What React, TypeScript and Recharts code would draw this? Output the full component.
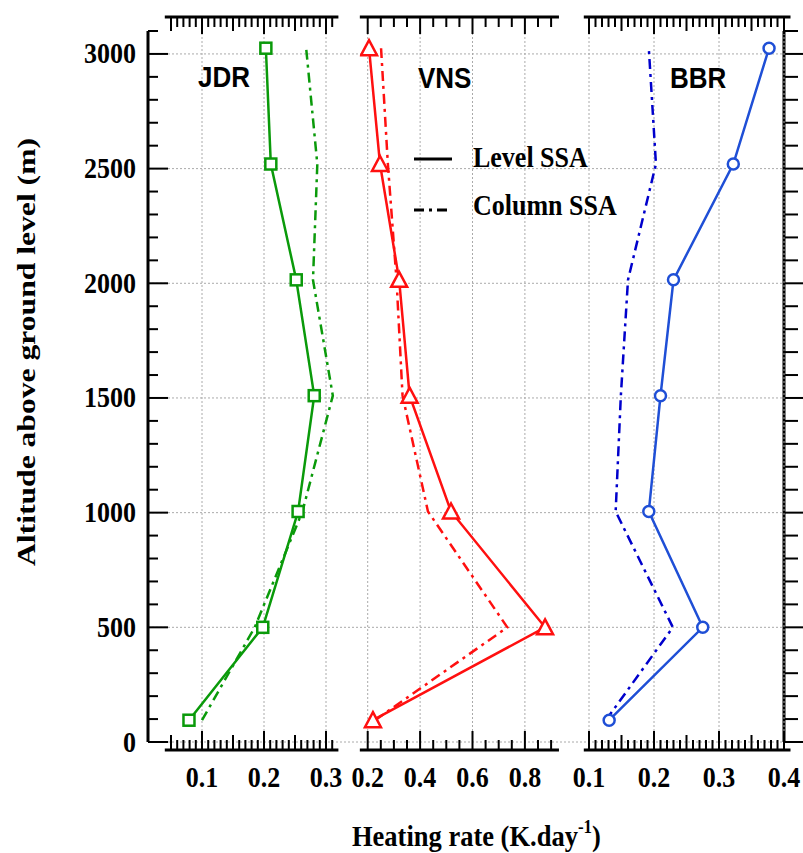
import React from 'react'
import { LineChart, Line, XAxis, YAxis, CartesianGrid } from 'recharts'

// altitudes of the profile points (m above ground)
const altitudes = [95, 500, 1005, 1510, 2015, 2520, 3025]

// heating rate (K/day) at each altitude
const jdrLevel = [0.079, 0.198, 0.255, 0.281, 0.252, 0.211, 0.203]
const jdrColumn = [0.1, 0.185, 0.262, 0.311, 0.279, 0.286, 0.268]
const vnsLevel = [0.22, 0.877, 0.518, 0.36, 0.32, 0.247, 0.205]
const vnsColumn = [0.228, 0.733, 0.43, 0.333, 0.31, 0.277, 0.251]
const bbrLevel = [0.131, 0.275, 0.192, 0.21, 0.23, 0.322, 0.377]
const bbrColumn = [0.126, 0.229, 0.141, 0.149, 0.16, 0.203, 0.192]

const yMajorTicks = [0, 500, 1000, 1500, 2000, 2500, 3000]
const jdrTicks = [0.1, 0.2, 0.3]
const vnsTicks = [0.2, 0.4, 0.6, 0.8]
const bbrTicks = [0.1, 0.2, 0.3, 0.4]

const range = (a: number, b: number, s: number) => {
  const out: number[] = []
  for (let v = a; v <= b + 1e-9; v += s) out.push(Math.round(v * 1000) / 1000)
  return out
}
const yMinorTicks = range(0, 3100, 100)

const W = 803
const H = 853
const SERIF = 'Liberation Serif, Times New Roman, serif'
const SANS = 'Liberation Sans, Arial, sans-serif'
const DASHDOT = '10 5 3 5'
const STRETCH = 'scale(1 1.15)' // the source figure is a bit taller than wide

// frame (shared altitude axis) in page pixels
const FRAME = { left: 148, right: 784, top: 31, bottom: 742 }
const Y_DOMAIN = [0, 3100]
const pxPerM = (FRAME.bottom - FRAME.top) / (Y_DOMAIN[1] - Y_DOMAIN[0])
// the x axes sit a little outside the frame
const AX_TOP = 17
const AX_BOTTOM = 750
const panelYDomain = [
  Y_DOMAIN[0] - (AX_BOTTOM - FRAME.bottom) / pxPerM,
  Y_DOMAIN[1] + (FRAME.top - AX_TOP) / pxPerM,
]

const makeRows = (level: number[], column: number[]) =>
  altitudes.map((alt, i) => ({ alt, level: level[i], column: column[i] }))

const axisStroke = { stroke: '#000', strokeWidth: 3 }

type Side = 'left' | 'right' | 'top' | 'bottom'

// draws tick marks (major / medium / minor lengths) and the labels of the major ticks
const makeTick = (side: Side, major: number[], medium: number[], lens: number[], label?: (v: number) => string) =>
  (props: any) => {
    const { x, y, payload, index } = props
    const v = payload.value
    const has = (arr: number[]) => arr.some((m) => Math.abs(m - v) < 1e-6)
    const isMajor = has(major)
    const len = isMajor ? lens[0] : has(medium) ? lens[1] : lens[2]
    let line
    if (side === 'left') line = <line x1={x} x2={x + len} y1={y} y2={y} />
    else if (side === 'right') line = <line x1={x} x2={x + len} y1={y} y2={y} />
    else if (side === 'top') line = <line x1={x} x2={x} y1={y} y2={y + len} />
    else line = <line x1={x} x2={x} y1={y} y2={y - len} />
    let text = null
    if (label && isMajor) {
      const common = { fill: '#000', fontSize: 26, fontWeight: 700, fontFamily: SERIF }
      text = side === 'left'
        ? <g transform={`translate(${x - 12} ${y + 9.5}) ${STRETCH}`}><text textAnchor="end" {...common}>{label(v)}</text></g>
        : <g transform={`translate(${x} ${y + 37}) ${STRETCH}`}><text textAnchor="middle" {...common}>{label(v)}</text></g>
    }
    return (
      <g key={`t${index}`}>
        <g stroke="#000" strokeWidth={2}>{line}</g>
        {text}
      </g>
    )
  }

type DotKind = 'square' | 'triangle' | 'circle'

const makeDot = (kind: DotKind, color: string) => (props: any) => {
  const { cx, cy, index } = props
  if (cx == null || cy == null) return <g key={`d${index}`} />
  if (kind === 'square')
    return <rect key={`d${index}`} x={cx - 5.5} y={cy - 5.5} width={11} height={11} fill="#fff" stroke={color} strokeWidth={2.5} />
  if (kind === 'triangle')
    return (
      <path key={`d${index}`} d={`M${cx},${cy - 8} L${cx + 8},${cy + 7} L${cx - 8},${cy + 7} Z`}
        fill="#fff" stroke={color} strokeWidth={2.5} />
    )
  return <circle key={`d${index}`} cx={cx} cy={cy} r={5.5} fill="#fff" stroke={color} strokeWidth={2.5} />
}

interface PanelProps {
  rows: { alt: number; level: number; column: number }[]
  domain: [number, number]
  left: number
  right: number
  major: number[]
  medium: number[]
  minor: number[]
  color: string
  columnColor: string
  dot: DotKind
}

const BOTTOM_H = 40

function Panel({ rows, domain, left, right, major, medium, minor, color, columnColor, dot }: PanelProps) {
  return (
    <div style={{ position: 'absolute', left: 0, top: 0 }}>
      <LineChart layout="vertical" width={W} height={H} data={rows}
        margin={{ top: 0, bottom: H - AX_BOTTOM - BOTTOM_H, left, right: W - right }}>
        <CartesianGrid horizontal={false} xAxisId="b" verticalValues={major} stroke="#aaa" strokeDasharray="2 2" />
        <YAxis type="number" dataKey="alt" domain={panelYDomain} allowDataOverflow reversed hide />
        <XAxis xAxisId="b" type="number" domain={domain} allowDataOverflow interval={0}
          orientation="bottom" height={BOTTOM_H} ticks={minor} tickSize={0} tickMargin={0}
          tickLine={false} axisLine={axisStroke}
          tick={makeTick('bottom', major, medium, [19, 15, 10], (v) => v.toFixed(1))} />
        <XAxis xAxisId="t" type="number" domain={domain} allowDataOverflow interval={0}
          orientation="top" height={AX_TOP} ticks={minor} tickSize={0} tickMargin={0}
          tickLine={false} axisLine={axisStroke}
          tick={makeTick('top', major, medium, [17, 14, 10])} />
        <Line xAxisId="b" dataKey="column" stroke={columnColor} strokeWidth={2.5}
          strokeDasharray={DASHDOT} dot={false} isAnimationActive={false} />
        <Line xAxisId="b" dataKey="level" stroke={color} strokeWidth={2.5}
          dot={makeDot(dot, color)} isAnimationActive={false} />
      </LineChart>
    </div>
  )
}

function Frame() {
  const leftW = 70
  const rightW = W - FRAME.right
  return (
    <div style={{ position: 'absolute', left: 0, top: 0 }}>
      <LineChart width={W} height={H} data={makeRows(jdrLevel, jdrColumn)}
        margin={{ top: FRAME.top, bottom: H - FRAME.bottom, left: FRAME.left - leftW, right: 0 }}>
        <CartesianGrid vertical={false} yAxisId="l" horizontalValues={yMajorTicks} stroke="#aaa" strokeDasharray="2 2" />
        <XAxis type="number" dataKey="level" hide />
        <YAxis yAxisId="l" type="number" domain={Y_DOMAIN} allowDataOverflow ticks={yMinorTicks}
          interval={0} width={leftW} tickSize={0} tickMargin={0} tickLine={false} axisLine={axisStroke}
          tick={makeTick('left', yMajorTicks, [], [20, 20, 10], (v) => String(v))} />
        <YAxis yAxisId="r" orientation="right" type="number" domain={Y_DOMAIN} allowDataOverflow
          ticks={yMinorTicks} interval={0} width={rightW} tickSize={0} tickMargin={0} tickLine={false}
          axisLine={axisStroke} tick={makeTick('right', yMajorTicks, [], [20, 20, 14])} />
      </LineChart>
    </div>
  )
}

export default function App() {
  // pixel anchors of each panel's x scale: value `at` sits at `px`, `k` px per unit
  const p1 = { at: 0.1, px: 202, k: 620, domain: [0.04, 0.32] as [number, number] }
  const p2 = { at: 0.2, px: 367.7, k: 262, domain: [0.17, 0.93] as [number, number] }
  const p3 = { at: 0.4, px: 784, k: 650, domain: [0.092, 0.41] as [number, number] }
  const edge = (p: typeof p1, v: number) => p.px + (v - p.at) * p.k
  const stretched = (x: number, y: number) => `translate(${x} ${y}) ${STRETCH}`

  return (
    <div style={{ position: 'absolute', left: 0, top: 0, width: W, height: H, background: '#fff', overflow: 'hidden' }}>
      <Frame />
      <Panel rows={makeRows(jdrLevel, jdrColumn)} domain={p1.domain}
        left={edge(p1, p1.domain[0])} right={edge(p1, p1.domain[1])}
        major={jdrTicks} medium={[0.05, 0.15, 0.25]} minor={range(0.05, 0.31, 0.01)}
        color="#0a9a0a" columnColor="#0a9a0a" dot="square" />
      <Panel rows={makeRows(vnsLevel, vnsColumn)} domain={p2.domain}
        left={edge(p2, p2.domain[0])} right={edge(p2, p2.domain[1])}
        major={vnsTicks} medium={[]} minor={range(0.2, 0.9, 0.05)}
        color="#ff1010" columnColor="#ff1010" dot="triangle" />
      <Panel rows={makeRows(bbrLevel, bbrColumn)} domain={p3.domain}
        left={edge(p3, p3.domain[0])} right={edge(p3, p3.domain[1])}
        major={bbrTicks} medium={[0.15, 0.25, 0.35]} minor={range(0.1, 0.4, 0.01)}
        color="#1f4fd6" columnColor="#0000cc" dot="circle" />
      <svg width={W} height={H} style={{ position: 'absolute', left: 0, top: 0, pointerEvents: 'none' }}>
        <text x={35} y={352} transform="rotate(-90 35 352)" textAnchor="middle" fontFamily={SERIF}
          fontWeight={700} fontSize={25} textLength={428} lengthAdjust="spacingAndGlyphs">
          Altitude above ground level (m)
        </text>
        <g transform={stretched(352, 846)}>
          <text x={0} y={0} fontFamily={SERIF} fontWeight={700} fontSize={26.5}>
            Heating rate (K.day<tspan dy={-11} fontSize={17}>-1</tspan><tspan dy={11}>)</tspan>
          </text>
        </g>
        <g fontFamily={SANS} fontWeight={700} fontSize={26}>
          <text transform={stretched(198, 87)}>JDR</text>
          <text transform={stretched(418, 88)}>VNS</text>
          <text transform={stretched(670, 88)}>BBR</text>
        </g>
        <line x1={414} x2={452} y1={159} y2={159} stroke="#000" strokeWidth={3} />
        <line x1={414} x2={452} y1={210} y2={210} stroke="#000" strokeWidth={3} strokeDasharray={DASHDOT} />
        <g fontFamily={SERIF} fontWeight={700} fontSize={26}>
          <text transform={stretched(473, 167)}>Level SSA</text>
          <text transform={stretched(473, 215)}>Column SSA</text>
        </g>
      </svg>
    </div>
  )
}
